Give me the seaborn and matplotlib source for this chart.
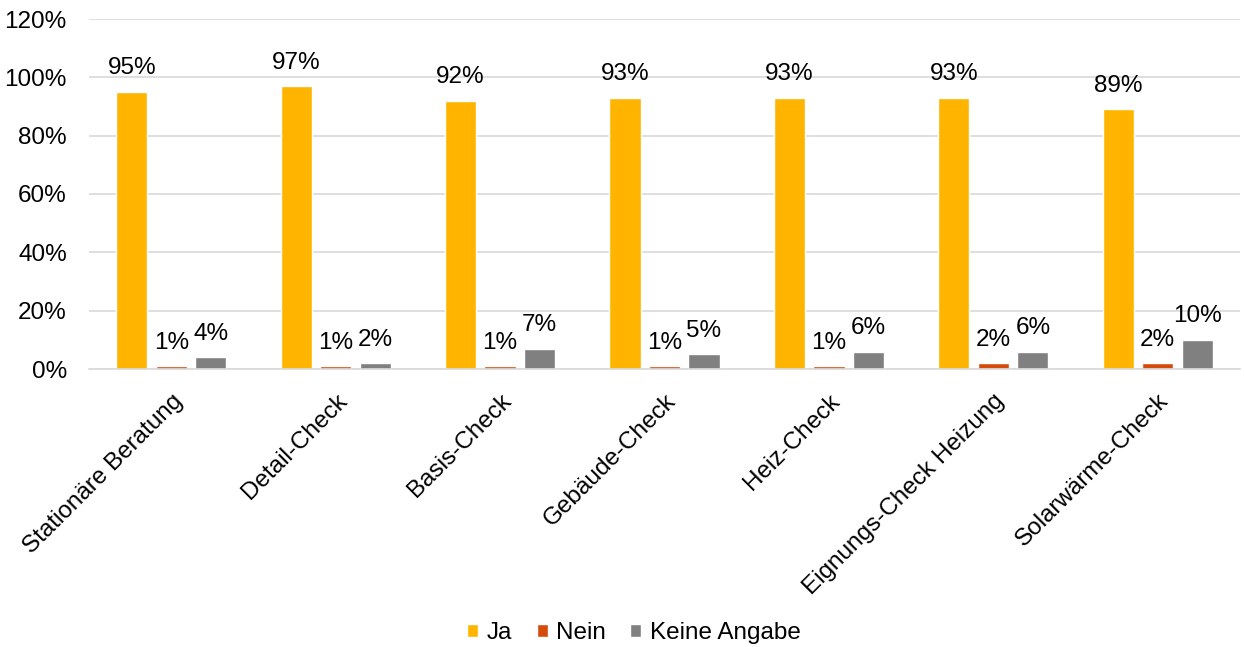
import matplotlib
matplotlib.use("Agg")
import matplotlib.pyplot as plt
import seaborn as sns
import pandas as pd
from matplotlib.ticker import FuncFormatter

categories = ["Stationäre Beratung", "Detail-Check", "Basis-Check", "Gebäude-Check",
              "Heiz-Check", "Eignungs-Check Heizung", "Solarwärme-Check"]
series = ["Ja", "Nein", "Keine Angabe"]
ja = [95, 97, 92, 93, 93, 93, 89]
nein = [1, 1, 1, 1, 1, 2, 2]
keine = [4, 2, 7, 5, 6, 6, 10]
colors = ["#FFB400", "#D54B0B", "#808080"]

rows = []
for s, vals in zip(series, [ja, nein, keine]):
    for c, v in zip(categories, vals):
        rows.append({"Kategorie": c, "Serie": s, "Wert": v})
df = pd.DataFrame(rows)

sns.set_theme(style="white")
plt.rcParams["font.family"] = ["Liberation Sans", "DejaVu Sans"]
plt.rcParams["text.color"] = "#000000"

fig = plt.figure(figsize=(12.44, 6.47), dpi=100)
ax = fig.add_axes([89/1244, 1-369/647, (1240-89)/1244, 350/647])

sns.barplot(data=df, x="Kategorie", y="Wert", hue="Serie", order=categories,
            hue_order=series, palette=colors, width=0.72, gap=0.21,
            saturation=1, ax=ax, legend=True, errorbar=None)

for cont in ax.containers:
    ax.bar_label(cont, labels=[f"{int(round(b.get_height()))}%" for b in cont],
                 padding=9, fontsize=17.5, color="#000000")

ax.set_ylim(0, 120)
ax.set_yticks(range(0, 121, 20))
ax.yaxis.set_major_formatter(FuncFormatter(lambda v, p: f"{int(v)}%"))
ax.set_xlim(-0.5, len(categories) - 0.5)
ax.grid(axis="y", color="#D9D9D9", linewidth=1.2)
ax.set_axisbelow(True)
for sp in ["left", "right", "top"]:
    ax.spines[sp].set_visible(False)
ax.spines["bottom"].set_color("#D9D9D9")
ax.spines["bottom"].set_linewidth(1.2)
ax.set_xlabel("")
ax.set_ylabel("")
ax.tick_params(axis="y", length=0, pad=16, labelsize=17.5, labelcolor="#000000")
ax.tick_params(axis="x", length=0, pad=15, labelsize=17.5, labelcolor="#000000")
for lab in ax.get_xticklabels():
    lab.set_rotation(45)
    lab.set_ha("right")
    lab.set_rotation_mode("anchor")

handles, labels = ax.get_legend_handles_labels()
ax.legend_.remove()
leg = fig.legend(handles, labels, loc="center", bbox_to_anchor=(634/1244, 1-633/647),
                 ncol=3, frameon=False, fontsize=17.5, handlelength=0.45, handleheight=0.45,
                 handletextpad=0.35, columnspacing=1.0)
for t in leg.get_texts():
    t.set_color("#000000")

fig.savefig("out.png", dpi=100)
